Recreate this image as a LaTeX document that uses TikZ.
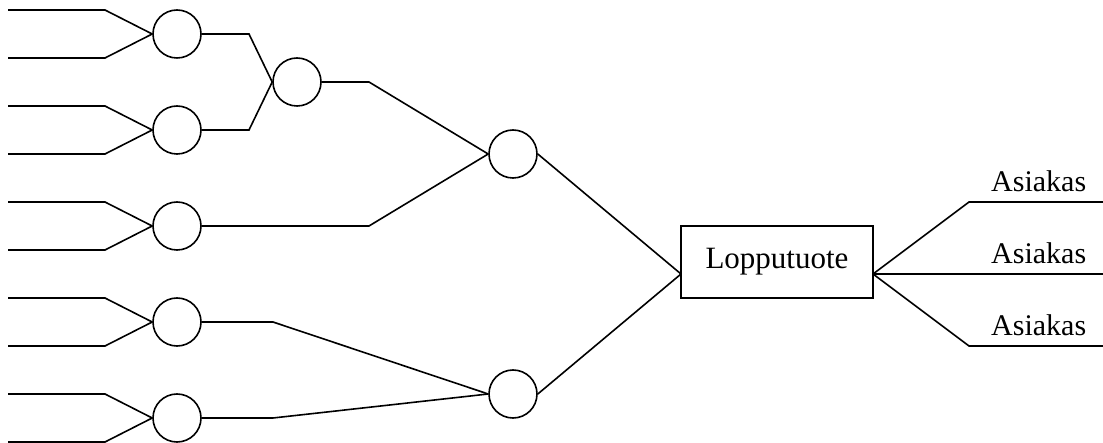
\documentclass[tikz,border=0pt]{standalone}
\usepackage{fontspec}
\setmainfont{Liberation Serif}
\begin{document}
\begin{tikzpicture}[x=1pt,y=-1pt,line width=1.6pt,
  stage/.style={draw,circle,minimum size=48pt,inner sep=0pt},
  product/.style={draw,rectangle,minimum width=192pt,minimum height=72pt,inner sep=0pt,font=\fontsize{31}{37}\selectfont},
  customer/.style={anchor=base east,inner sep=0pt,font=\fontsize{30}{36}\selectfont},
  link/.style={line join=miter}]
\useasboundingbox (0,0) rectangle (1103,443);

% assembly stages
\node[stage] (a) at (177,34) {};
\node[stage] (b) at (177,130) {};
\node[stage] (c) at (297,82) {};
\node[stage] (d) at (177,226) {};
\node[stage] (e) at (513,154) {};
\node[stage] (f) at (177,322) {};
\node[stage] (g) at (177,418) {};
\node[stage] (h) at (513,394) {};

% final product
\node[product] (lp) at (777,262) {Lopputuote};
\coordinate (lpin) at (681,274);
\coordinate (lpout) at (873,274);

% raw material inputs (two per first-level stage)
\foreach \s/\y in {a/34,b/130,d/226,f/322,g/418}{
  \coordinate (\s u0) at (8,\y-24);  \coordinate (\s u1) at (105,\y-24);
  \coordinate (\s l0) at (8,\y+24);  \coordinate (\s l1) at (105,\y+24);
  \draw[link] (\s u0) -- (\s u1) -- (\s.west);
  \draw[link] (\s l0) -- (\s l1) -- (\s.west);
}

% bend points
\coordinate (ka) at (249,34);
\coordinate (kb) at (249,130);
\coordinate (kc) at (369,82);
\coordinate (kd) at (369,226);
\coordinate (kf) at (273,322);
\coordinate (kg) at (273,418);

\draw[link] (a.east) -- (ka) -- (c.west);
\draw[link] (b.east) -- (kb) -- (c.west);
\draw[link] (c.east) -- (kc) -- (e.west);
\draw[link] (d.east) -- (kd) -- (e.west);
\draw[link] (f.east) -- (kf) -- (h.west);
\draw[link] (g.east) -- (kg) -- (h.west);
\draw[link] (e.east) -- (lpin);
\draw[link] (h.east) -- (lpin);

% distribution to customers
\coordinate (t1) at (969,202);  \coordinate (e1) at (1103,202);
\coordinate (e2) at (1103,274);
\coordinate (t3) at (969,346);  \coordinate (e3) at (1103,346);
\draw[link] (lpout) -- (t1) -- (e1);
\draw[link] (lpout) -- (e2);
\draw[link] (lpout) -- (t3) -- (e3);

\node[customer] (as1) at (1087,192) {Asiakas};
\node[customer] (as2) at (1087,264) {Asiakas};
\node[customer] (as3) at (1087,336) {Asiakas};
\end{tikzpicture}
\end{document}
